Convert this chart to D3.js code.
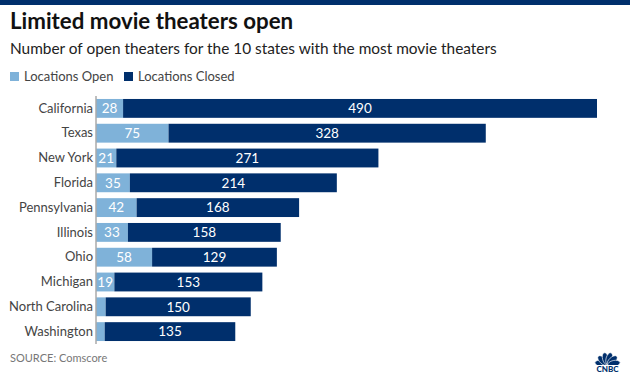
<!DOCTYPE html>
<html>
<head>
<meta charset="utf-8">
<script src="https://cdn.jsdelivr.net/npm/d3@7"></script>
<style>
  body { margin: 0; background: #fff; }
  svg text { font-family: Lato, "Open Sans", sans-serif; }
</style>
</head>
<body>
<svg id="chart" width="630" height="377"></svg>
<script>
var states = ["California", "Texas", "New York", "Florida", "Pennsylvania",
              "Illinois", "Ohio", "Michigan", "North Carolina", "Washington"];
var openCounts = [28, 75, 21, 35, 42, 33, 58, 19, 10, 9];
var closedCounts = [490, 328, 271, 214, 168, 158, 129, 153, 150, 135];
var seriesNames = ["Locations Open", "Locations Closed"];

var colorOpen = "#7fb2d9",
  colorClosed = "#002f6c";

var svg = d3.select("#chart"),
  margin = {top: 96, right: 33, bottom: 33, left: 96},
  width = +svg.attr("width") - margin.left - margin.right,
  height = +svg.attr("height") - margin.top - margin.bottom;

// top band
svg.append("rect").attr("x", 0).attr("y", 0).attr("width", 630).attr("height", 5)
  .attr("fill", colorClosed);

svg.append("text").attr("x", 10).attr("y", 29)
  .attr("font-size", 22.3).attr("font-weight", 700).attr("fill", "#111")
  .text("Limited movie theaters open");

svg.append("text").attr("x", 10).attr("y", 54)
  .attr("font-size", 15.4).attr("fill", "#222")
  .text("Number of open theaters for the 10 states with the most movie theaters");

// legend
var legend = svg.append("g").attr("transform", "translate(10,72)");
var legendX = [0, 114];
seriesNames.forEach(function(name, i) {
  legend.append("rect").attr("x", legendX[i]).attr("y", 0)
    .attr("width", 9).attr("height", 9)
    .attr("fill", i === 0 ? colorOpen : colorClosed);
  legend.append("text").attr("x", legendX[i] + 14).attr("y", 9)
    .attr("font-size", 13).attr("fill", "#444").text(name);
});

var data = states.map(function(s, i) {
  return {state: s, open: openCounts[i], closed: closedCounts[i]};
});

var x = d3.scaleLinear()
  .domain([0, d3.max(data, function(d) { return d.open + d.closed; })])
  .range([0, 501]);
var y = d3.scaleBand().domain(states).range([0, 248]).paddingInner(0.24).paddingOuter(0.12);

var g = svg.append("g")
  .attr("transform", "translate(" + margin.left + "," + margin.top + ")");

// open segments
g.selectAll(".bar-open")
  .data(data)
  .enter().append("rect")
  .attr("class", "bar-open")
  .attr("x", 0)
  .attr("y", function(d) { return y(d.state); })
  .attr("width", function(d) { return x(d.open); })
  .attr("height", y.bandwidth())
  .attr("fill", colorOpen);

// closed segments
g.selectAll(".bar-closed")
  .data(data)
  .enter().append("rect")
  .attr("class", "bar-closed")
  .attr("x", function(d) { return x(d.open); })
  .attr("y", function(d) { return y(d.state); })
  .attr("width", function(d) { return x(d.closed); })
  .attr("height", y.bandwidth())
  .attr("fill", colorClosed);

// value labels
g.selectAll(".label-open")
  .data(data.filter(function(d) { return x(d.open) > 15; }))
  .enter().append("text")
  .attr("x", function(d) { return x(d.open) / 2; })
  .attr("y", function(d) { return y(d.state) + y.bandwidth() / 2; })
  .attr("dy", "0.36em")
  .attr("text-anchor", "middle")
  .attr("font-size", 13.5).attr("fill", "#fff")
  .text(function(d) { return d.open; });

g.selectAll(".label-closed")
  .data(data)
  .enter().append("text")
  .attr("x", function(d) { return x(d.open) + x(d.closed) / 2; })
  .attr("y", function(d) { return y(d.state) + y.bandwidth() / 2; })
  .attr("dy", "0.36em")
  .attr("text-anchor", "middle")
  .attr("font-size", 13.5).attr("fill", "#fff")
  .text(function(d) { return d.closed; });

// y axis
var yAxis = g.append("g")
  .attr("class", "axis axis--y")
  .call(d3.axisLeft(y).tickSize(0).tickPadding(3));
yAxis.select(".domain").attr("stroke", "#aaa").attr("stroke-width", 1.5)
  .attr("d", "M0,0V248");
yAxis.selectAll("text")
  .attr("font-size", 13).attr("fill", "#444")
  .style("font-family", "Lato, 'Open Sans', sans-serif");

// source
svg.append("text").attr("x", 10).attr("y", 362)
  .attr("font-size", 11).attr("fill", "#777")
  .text("SOURCE: Comscore");

// CNBC peacock
var logo = svg.append("g").attr("transform", "translate(607.5,365)");
d3.range(6).forEach(function(i) {
  var ang = -78 + i * 31.2;
  logo.append("ellipse")
    .attr("cx", 0).attr("cy", -6.5).attr("rx", 3.2).attr("ry", 6.2)
    .attr("transform", "rotate(" + ang + ")")
    .attr("fill", colorClosed)
    .attr("stroke", "#fff").attr("stroke-width", 0.6);
});
logo.append("rect").attr("x", -13).attr("y", 0).attr("width", 26).attr("height", 9)
  .attr("fill", "#fff");
logo.append("text").attr("x", 0).attr("y", 7)
  .attr("text-anchor", "middle").attr("font-size", 8).attr("font-weight", 900)
  .attr("fill", colorClosed).text("CNBC");
</script>
</body>
</html>
